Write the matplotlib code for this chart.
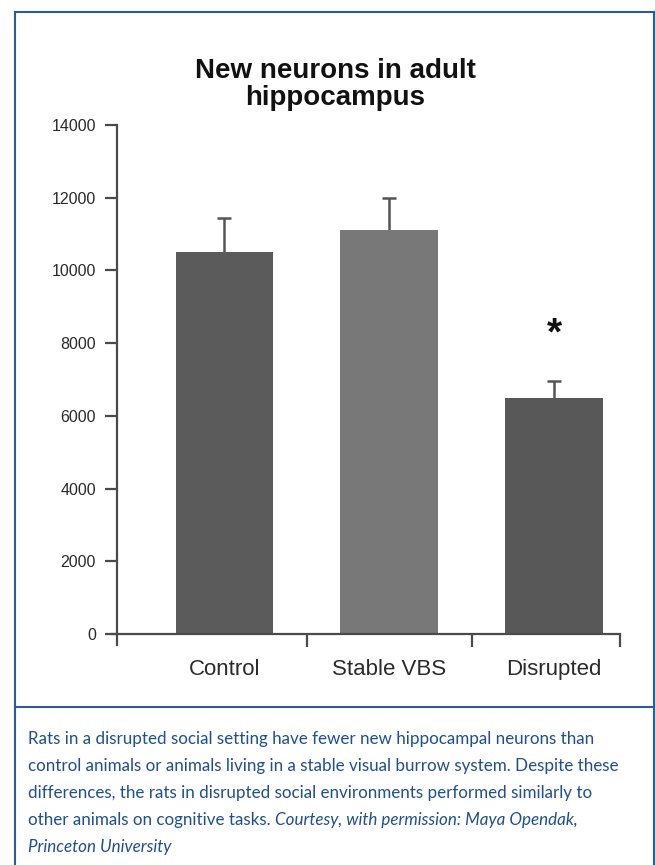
import numpy as np
import matplotlib
matplotlib.use('Agg')
import matplotlib.pyplot as plt
from matplotlib.lines import Line2D

# Values
groups = ['Control', 'Stable VBS', 'Disrupted']
neurons = [10500, 11100, 6480]
sem = [950, 880, 490]
bar_colors = ['#5b5b5b', '#787878', '#585858']
yticks = [0, 2000, 4000, 6000, 8000, 10000, 12000, 14000]

title_lines = ['New neurons in adult', 'hippocampus']
caption_lines = [
    ('Rats in a disrupted social setting have fewer new hippocampal neurons than', ''),
    ('control animals or animals living in a stable visual burrow system. Despite these', ''),
    ('differences, the rats in disrupted social environments performed similarly to', ''),
    ('other animals on cognitive tasks. ', 'Courtesy, with permission: Maya Opendak,'),
    ('', 'Princeton University'),
]

W, H = 655, 865
fig = plt.figure(figsize=(W / 100, H / 100), dpi=100)
fig.patch.set_facecolor('white')

# axes placed in pixel terms
left_px, right_px = 112, 620
top_px, bot_px = 125, 645
ax = fig.add_axes([left_px / W, (H - bot_px) / H, (right_px - left_px) / W, (bot_px - top_px) / H])

x = np.arange(len(groups))
tops = np.array(neurons) + np.array(sem)
ax.bar(x, neurons, width=0.59, color=bar_colors, zorder=2)
# upper error bars only: stem plus cap
ax.vlines(x, neurons, tops, color='#555555', lw=1.8, zorder=1)
ax.plot(x, tops, ls='none', marker='_', ms=10, mew=1.8, color='#555555', zorder=1)

# significance marker over the disrupted group
ax.annotate('*', xy=(2, tops[2]), xytext=(0, 20), textcoords='offset points',
            ha='center', va='bottom', fontsize=28, fontweight='bold', color='#111111',
            family='Liberation Sans')

ax.set_xlim(-0.68, 2.4)
ax.set_ylim(-300, 14000)
ax.set_yticks(yticks)
ax.set_yticklabels([str(v) for v in yticks])
ax.set_xticks([0.5, 1.5, 2.4])
ax.set_xticklabels([])
ax.set_xticks(x, minor=True)
ax.set_xticklabels(groups, minor=True)

for s in ['top', 'right']:
    ax.spines[s].set_visible(False)
ax.spines['bottom'].set_position(('data', 0))
ax.spines['left'].set_position(('data', -0.65))
ax.spines['left'].set_bounds(-300, 14000)
for s in ['left', 'bottom']:
    ax.spines[s].set_color('#4a4a4a')
    ax.spines[s].set_linewidth(1.6)

ax.tick_params(axis='y', which='major', direction='out', length=9, width=1.6,
               color='#4a4a4a', labelsize=11.5, labelcolor='#2a2a2a', pad=6)
ax.tick_params(axis='x', which='major', direction='out', length=9, width=1.6, color='#4a4a4a')
ax.tick_params(axis='x', which='minor', length=0, labelsize=16, labelcolor='#2a2a2a', pad=18)
for lbl in ax.get_yticklabels() + ax.get_xticklabels(minor=True):
    lbl.set_family('Liberation Sans')

# title, two centred bold lines
for i, line in enumerate(title_lines):
    fig.text(335 / W, 1 - (78 + 27 * i) / H, line, ha='center', va='baseline', fontsize=20,
             fontweight='bold', family='Liberation Sans', color='#111111')

# blue frame and caption panel
blue = '#2b5c95'
fig.add_artist(Line2D([15 / W, 654 / W], [1 - 12 / H, 1 - 12 / H], color=blue, lw=1.5))
fig.add_artist(Line2D([15 / W, 15 / W], [1 - 12 / H, 0], color=blue, lw=1.5))
fig.add_artist(Line2D([654 / W, 654 / W], [1 - 12 / H, 0], color=blue, lw=1.5))
fig.add_artist(Line2D([15 / W, 1], [1 - 707 / H, 1 - 707 / H], color=blue, lw=1.5))

cap_color = '#1f4f8f'
cap_family = ['Liberation Sans Narrow', 'Lato', 'DejaVu Sans']
renderer = fig.canvas.get_renderer()

# size the caption so its widest line spans the panel like the reference
probe = fig.text(0, 0, caption_lines[1][0], fontsize=10, family=cap_family)
probe_w = probe.get_window_extent(renderer).width
probe.remove()
cap_size = 10 * 591 / probe_w

x0 = 28
for i, (plain, ital) in enumerate(caption_lines):
    yb = 1 - (744 + 27 * i) / H
    xpos = x0
    if plain:
        t = fig.text(xpos / W, yb, plain, ha='left', va='baseline', fontsize=cap_size,
                     family=cap_family, color=cap_color)
        xpos += t.get_window_extent(renderer).width
    if ital:
        fig.text(xpos / W, yb, ital, ha='left', va='baseline', fontsize=cap_size,
                 family=cap_family, style='italic', color=cap_color)

fig.savefig('out.png', dpi=100)
